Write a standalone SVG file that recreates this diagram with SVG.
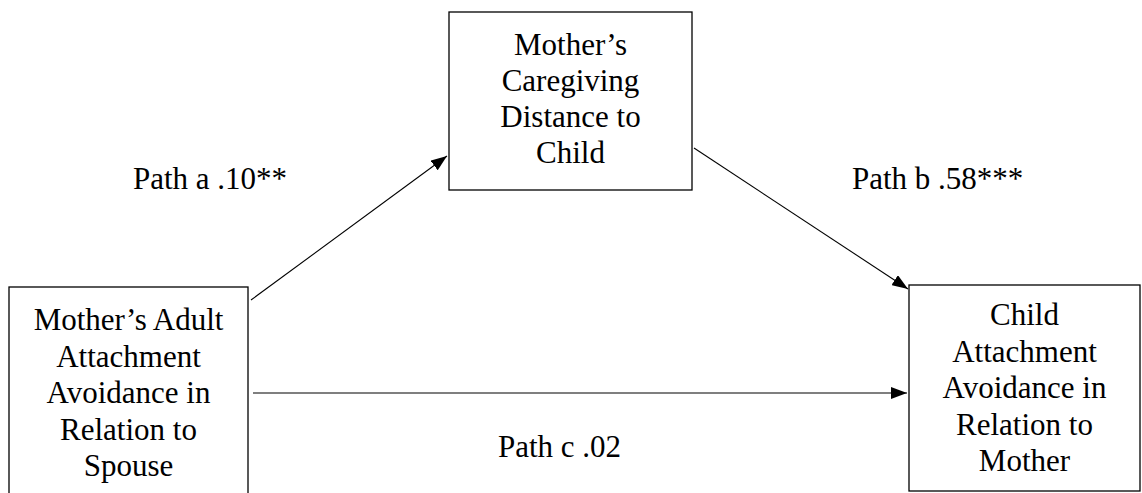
<svg xmlns="http://www.w3.org/2000/svg" width="1142" height="493" viewBox="0 0 1142 493">
<style>
.box{fill:#fff;stroke:#000;stroke-width:1.3}
.t{font-family:"Liberation Serif","Times New Roman",serif;font-size:31px;fill:#000;text-anchor:middle}
.l{font-family:"Liberation Serif","Times New Roman",serif;font-size:31px;fill:#000}
.c{stroke:#000;stroke-width:1.1;fill:none;marker-end:url(#ah)}
</style>
<defs>
<marker id="ah" markerUnits="userSpaceOnUse" markerWidth="16" markerHeight="12" refX="16" refY="6" orient="auto">
<path d="M0,0 L16,6 L0,12 Z" fill="#000"/>
</marker>
</defs>
<rect width="1142" height="493" fill="#fff"/>
<g id="connectors">
<line class="c" x1="251" y1="300" x2="447" y2="156"/>
<line class="c" x1="694" y1="148" x2="908" y2="289"/>
<line class="c" x1="253" y1="393" x2="907" y2="393"/>
</g>
<g id="node-left">
<rect class="box" x="9" y="287" width="239" height="220"/>
<text class="t" x="128.5" y="330">Mother’s Adult</text>
<text class="t" x="128.5" y="366.5">Attachment</text>
<text class="t" x="128.5" y="403">Avoidance in</text>
<text class="t" x="128.5" y="439.5">Relation to</text>
<text class="t" x="128.5" y="476">Spouse</text>
</g>
<g id="node-top">
<rect class="box" x="449" y="12" width="243" height="178"/>
<text class="t" x="570.5" y="55">Mother’s</text>
<text class="t" x="570.5" y="91">Caregiving</text>
<text class="t" x="570.5" y="127">Distance to</text>
<text class="t" x="570.5" y="163">Child</text>
</g>
<g id="node-right">
<rect class="box" x="909" y="285" width="231" height="206"/>
<text class="t" x="1024.5" y="325">Child</text>
<text class="t" x="1024.5" y="361.5">Attachment</text>
<text class="t" x="1024.5" y="398">Avoidance in</text>
<text class="t" x="1024.5" y="434.5">Relation to</text>
<text class="t" x="1024.5" y="471">Mother</text>
</g>
<g id="labels">
<text class="l" x="133" y="189">Path a .10**</text>
<text class="l" x="852" y="189">Path b .58***</text>
<text class="l" x="498" y="457">Path c .02</text>
</g>
</svg>
